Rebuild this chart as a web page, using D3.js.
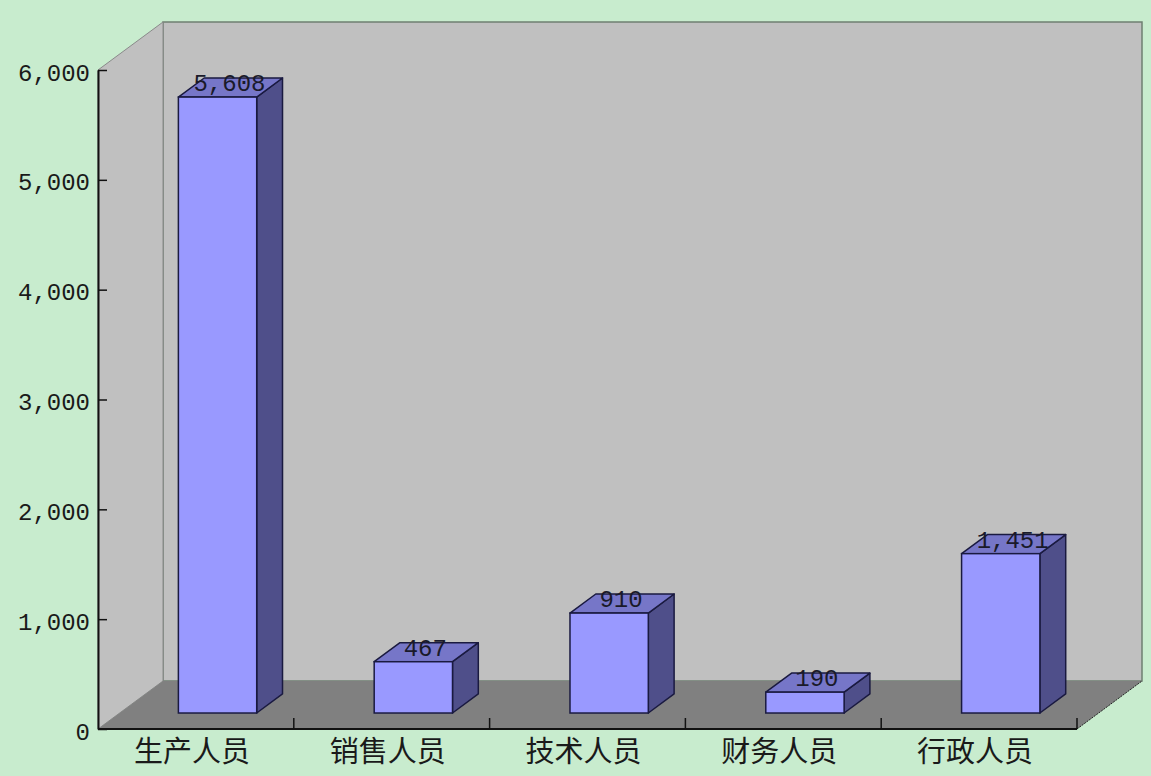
<!DOCTYPE html>
<html><head><meta charset="utf-8">
<script src="https://cdn.jsdelivr.net/npm/d3@7/dist/d3.min.js"></script>
<style>
html,body{margin:0;padding:0;background:#c8ecce;}
svg{display:block;}
</style></head>
<body>
<script>
const categories = ['生产人员','销售人员','技术人员','财务人员','行政人员'];
const values = [5608, 467, 910, 190, 1451];
const yTicks = [0, 1000, 2000, 3000, 4000, 5000, 6000];

(function(){
const W = 1151, H = 776;
const pL = 98, pR = 1077, pT = 70, pB = 729;
const DX = 65, DY = -48;          // depth of the plot box
const f0 = 0.333, f1 = 0.73;      // bar front/back depth fraction
const numFont = '"Liberation Mono", "DejaVu Sans Mono", monospace';

const svg = d3.select('body').append('svg').attr('width', W).attr('height', H);
svg.append('rect').attr('width', W).attr('height', H).attr('fill', '#c8ecce');

const x = d3.scaleBand().domain(categories).range([pL, pR]).padding(0);
const y = d3.scaleLinear().domain([0, 6000]).range([pB, pT]);

const pts = a => a.map(p => p.join(',')).join(' ');

// back wall
svg.append('polygon')
  .attr('points', pts([[pL+DX, pT+DY],[pR+DX, pT+DY],[pR+DX, pB+DY],[pL+DX, pB+DY]]))
  .attr('fill', '#c0c0c0').attr('stroke', '#6f7f72').attr('stroke-width', 1.5);
// left wall
svg.append('polygon')
  .attr('points', pts([[pL, pT],[pL+DX, pT+DY],[pL+DX, pB+DY],[pL, pB]]))
  .attr('fill', '#c0c0c0').attr('stroke', '#8a8a8a').attr('stroke-width', 1);
// floor
svg.append('polygon')
  .attr('points', pts([[pL, pB],[pR, pB],[pR+DX, pB+DY],[pL+DX, pB+DY]]))
  .attr('fill', '#808080').attr('stroke', 'none');
svg.append('line')
  .attr('x1', pR).attr('y1', pB).attr('x2', pR+DX).attr('y2', pB+DY)
  .attr('stroke', '#222').attr('stroke-width', 1).attr('stroke-dasharray', '2,1');

// bars
const bw = x.bandwidth() * 0.4;
const g = svg.append('g');
categories.forEach((c, i) => {
  const v = values[i];
  const cx = x(c) + x.bandwidth()/2;
  const x0 = cx - bw/2 + f0*DX, x1 = cx + bw/2 + f0*DX;
  const yb = y(0) + f0*DY, yt = y(v) + f0*DY;
  const ddx = (f1-f0)*DX, ddy = (f1-f0)*DY;
  const sc = '#1a1a40', sw = 1.5;
  g.append('polygon').attr('points', pts([[x1,yt],[x1+ddx,yt+ddy],[x1+ddx,yb+ddy],[x1,yb]]))
    .attr('fill', '#4f4f8a').attr('stroke', sc).attr('stroke-width', sw).attr('stroke-linejoin','round');
  g.append('polygon').attr('points', pts([[x0,yt],[x1,yt],[x1+ddx,yt+ddy],[x0+ddx,yt+ddy]]))
    .attr('fill', '#7676c8').attr('stroke', sc).attr('stroke-width', sw).attr('stroke-linejoin','round');
  g.append('rect').attr('x', x0).attr('y', yt).attr('width', bw).attr('height', yb-yt)
    .attr('fill', '#9999ff').attr('stroke', sc).attr('stroke-width', sw);
  g.append('text').attr('x', (x0+x1)/2 + ddx/2 - 1).attr('y', yt + ddy + 13)
    .attr('text-anchor', 'middle')
    .style('font-family', numFont)
    .style('font-size', '24px').attr('fill', '#1a1a2a')
    .text(d3.format(',')(v));
});

// y axis
const yAxis = d3.axisLeft(y).tickValues(yTicks).tickSize(-9).tickSizeOuter(0).tickPadding(8)
  .tickFormat(d3.format(','));
const ya = svg.append('g').attr('transform', `translate(${pL},0)`).call(yAxis);
ya.select('.domain').attr('stroke', '#111').attr('stroke-width', 2);
ya.selectAll('.tick line').attr('stroke', '#111').attr('stroke-width', 1.5);
ya.selectAll('.tick text').style('font-family', numFont)
  .style('font-size', '24px').attr('fill', '#1a1a1a').attr('dy', '0.42em');

// x axis line and boundary ticks
svg.append('line').attr('x1', pL).attr('x2', pR).attr('y1', pB).attr('y2', pB)
  .attr('stroke', '#111').attr('stroke-width', 2);
const bounds = categories.map(c => x(c)).concat([x(categories[categories.length-1]) + x.bandwidth()]);
svg.append('g').selectAll('line').data(bounds.slice(1)).join('line')
  .attr('x1', d => d).attr('x2', d => d).attr('y1', pB).attr('y2', pB - 11)
  .attr('stroke', '#111').attr('stroke-width', 1.5);
const xAxis = d3.axisBottom(x).tickSize(0).tickPadding(12);
const xa = svg.append('g').attr('transform', `translate(-4,${pB})`).call(xAxis);
xa.select('.domain').remove();
xa.selectAll('.tick text').style('font-family', '"Noto Sans CJK SC", sans-serif')
  .style('font-size', '29px').attr('fill', '#1a1a1a');
})();
</script>
</body></html>
